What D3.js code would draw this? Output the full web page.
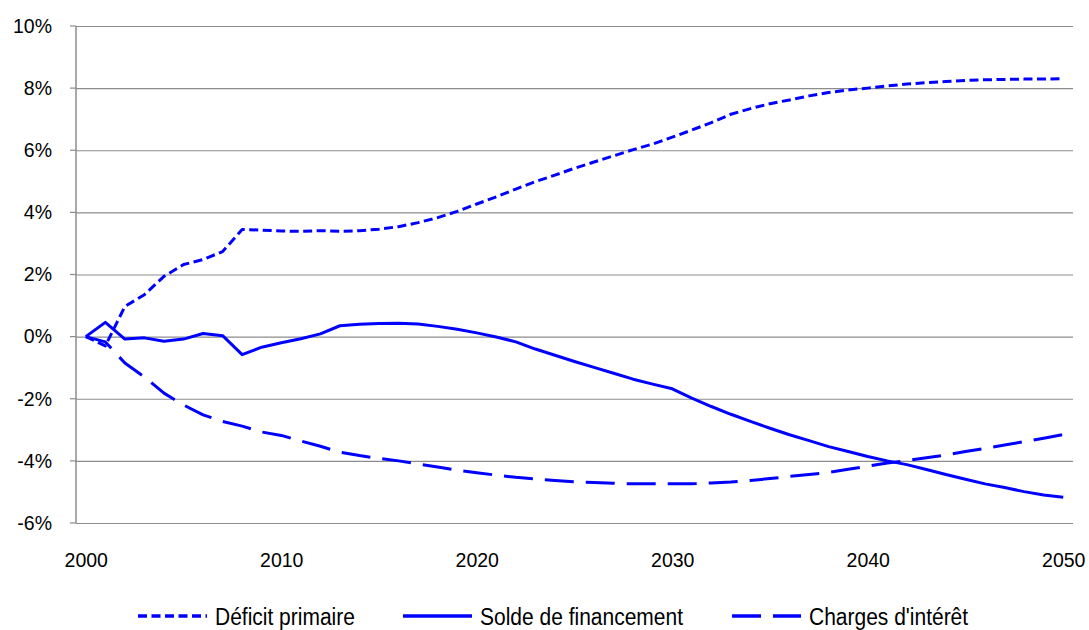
<!DOCTYPE html>
<html>
<head>
<meta charset="utf-8">
<script src="https://cdn.jsdelivr.net/npm/d3@7"></script>
<style>
  body { margin: 0; background: #fff; }
  text { font-family: "Liberation Sans", Arial, sans-serif; fill: #000; }
</style>
</head>
<body>
<div id="chart"></div>
<script>
// Années (catégories)
const years = d3.range(2000, 2051);

// Séries, en %
const deficitPrimaire = [
  0, -0.3, 0.97, 1.35, 1.94, 2.32, 2.48, 2.74, 3.45, 3.43,
  3.4, 3.39, 3.41, 3.39, 3.41, 3.46, 3.54, 3.67, 3.83, 4.03,
  4.27, 4.5, 4.75, 4.99, 5.2, 5.42, 5.62, 5.82, 6.02, 6.2,
  6.42, 6.65, 6.89, 7.16, 7.34, 7.5, 7.62, 7.75, 7.86, 7.94,
  8.0, 8.07, 8.13, 8.18, 8.21, 8.25, 8.27, 8.28, 8.29, 8.29,
  8.3
];
const soldeFinancement = [
  0, 0.46, -0.08, -0.04, -0.15, -0.08, 0.1, 0.03, -0.58, -0.34,
  -0.2, -0.07, 0.09, 0.35, 0.4, 0.42, 0.43, 0.41, 0.33, 0.24,
  0.12, -0.01, -0.17, -0.4, -0.6, -0.8, -0.99, -1.18, -1.37, -1.53,
  -1.68, -1.98, -2.25, -2.5, -2.73, -2.95, -3.16, -3.35, -3.54, -3.7,
  -3.86, -4.0, -4.12, -4.28, -4.44, -4.59, -4.74, -4.86, -4.99, -5.1,
  -5.17
];
const chargesInteret = [
  0, -0.17, -0.85, -1.3, -1.82, -2.2, -2.52, -2.73, -2.88, -3.07,
  -3.18, -3.36, -3.53, -3.72, -3.83, -3.92, -4.0, -4.1, -4.2, -4.3,
  -4.38, -4.46, -4.53, -4.58, -4.63, -4.67, -4.7, -4.72, -4.74, -4.74,
  -4.74, -4.74, -4.71, -4.68, -4.63, -4.57, -4.5, -4.44, -4.37, -4.27,
  -4.17, -4.07, -3.99, -3.9, -3.81, -3.7, -3.6, -3.49, -3.38, -3.27,
  -3.15
];

const yTicks = [-6, -4, -2, 0, 2, 4, 6, 8, 10];
const xTicks = [2000, 2010, 2020, 2030, 2040, 2050];

const series = [
  { name: "Déficit primaire", values: deficitPrimaire, dash: "9,4.5" },
  { name: "Solde de financement", values: soldeFinancement, dash: null },
  { name: "Charges d'intérêt", values: chargesInteret, dash: "29,12" }
];

const width = 1089, height = 630;
const svg = d3.select("#chart").append("svg")
  .attr("width", width)
  .attr("height", height);

const m = { left: 76, right: 1073, top: 26, bottom: 523 };

const x = d3.scalePoint()
  .domain(years)
  .range([m.left, m.right])
  .padding(0.5);

const y = d3.scaleLinear()
  .domain([-6, 10])
  .range([m.bottom, m.top]);

// Grille horizontale + étiquettes
svg.append("g")
  .attr("transform", `translate(${m.left},0)`)
  .call(d3.axisLeft(y)
    .tickValues(yTicks)
    .tickSize(-(m.right - m.left))
    .tickPadding(24)
    .tickFormat(d => d + "%"))
  .call(g => g.select(".domain").remove())
  .call(g => g.selectAll(".tick line")
    .attr("stroke", "#8c8c8c")
    .attr("stroke-width", 1.2))
  .call(g => g.selectAll(".tick text")
    .attr("x", -24)
    .attr("font-size", 19.5)
    .attr("fill", "#000"));

// petites graduations à gauche
svg.append("g")
  .selectAll("line")
  .data(yTicks)
  .enter()
  .append("line")
  .attr("x1", m.left - 6)
  .attr("x2", m.left)
  .attr("y1", d => y(d))
  .attr("y2", d => y(d))
  .attr("stroke", "#8c8c8c")
  .attr("stroke-width", 1.2);

// Axe vertical
svg.append("line")
  .attr("x1", m.left).attr("x2", m.left)
  .attr("y1", m.top).attr("y2", m.bottom)
  .attr("stroke", "#8c8c8c")
  .attr("stroke-width", 1.5);

// Axe des années
svg.append("g")
  .attr("transform", `translate(0,${m.bottom})`)
  .call(d3.axisBottom(x)
    .tickValues(xTicks)
    .tickSize(0))
  .call(g => g.select(".domain").remove())
  .call(g => g.selectAll(".tick text")
    .attr("dy", 0)
    .attr("y", 44)
    .attr("font-size", 19.5)
    .attr("fill", "#000"));

// Courbes
const line = d3.line()
  .x((d, i) => x(years[i]))
  .y(d => y(d));

svg.append("g")
  .selectAll("path")
  .data(series)
  .enter()
  .append("path")
  .attr("d", d => line(d.values))
  .attr("fill", "none")
  .attr("stroke", "#0000ff")
  .attr("stroke-width", 3)
  .attr("stroke-linejoin", "round")
  .attr("stroke-dasharray", d => d.dash);

// Légende (un peu remontée pour que les jambages restent visibles)
const legendPos = [138, 403, 732];
const legend = svg.append("g")
  .selectAll("g")
  .data(series)
  .enter()
  .append("g")
  .attr("transform", (d, i) => `translate(${legendPos[i]},616)`);

legend.append("line")
  .attr("x1", 0).attr("x2", 69)
  .attr("stroke", "#0000ff")
  .attr("stroke-width", 3.5)
  .attr("stroke-dasharray", d => d.dash);

legend.append("text")
  .attr("transform", "translate(77,8.5) scale(1,1.15)")
  .attr("font-size", 21)
  .text(d => d.name);
</script>
</body>
</html>
